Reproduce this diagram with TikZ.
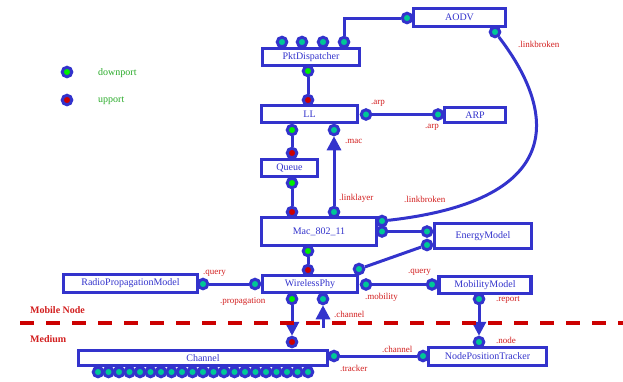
\documentclass[tikz,border=0pt]{standalone}
\usepackage{fontspec}
\setmainfont{Liberation Serif}
\usetikzlibrary{arrows.meta,positioning}
\definecolor{nsblue}{RGB}{51,51,204}
\definecolor{portteal}{RGB}{0,200,150}
\definecolor{downgreen}{RGB}{0,240,0}
\definecolor{upred}{RGB}{204,0,0}
\definecolor{lblred}{RGB}{210,30,30}
\definecolor{legendgreen}{RGB}{40,170,40}
\tikzset{
  module/.style={draw=nsblue, line width=3.2pt, fill=white, text=nsblue, font=\fontsize{10}{11}\selectfont, inner sep=0pt},
  port/.style={circle, draw=nsblue, line width=3pt, fill=portteal, minimum size=9.5pt, inner sep=0pt},
  dport/.style={port, fill=downgreen},
  uport/.style={port, fill=upred},
  link/.style={draw=nsblue, line width=3pt},
  flow/.style={link, -{Triangle[length=14pt,width=14pt]}},
  lbl/.style={text=lblred, font=\fontsize{9}{10}\selectfont, inner sep=0pt, anchor=west},
  region/.style={text=lblred, font=\fontsize{10}{11}\selectfont\bfseries, inner sep=0pt, anchor=west},
  legend/.style={text=legendgreen, font=\fontsize{10}{11}\selectfont, inner sep=0pt, anchor=west},
}
\begin{document}
\begin{tikzpicture}[x=1pt, y=-1pt]
\useasboundingbox (0,0) rectangle (623,381);
% Modules
\node[module, minimum width=92pt, minimum height=18pt] (aodv) at (459.5,17.5) {AODV};
\node[module, minimum width=97pt, minimum height=17pt] (pkt) at (311,57) {PktDispatcher};
\node[module, minimum width=96pt, minimum height=17pt] (ll) at (309.5,114) {LL};
\node[module, minimum width=61pt, minimum height=15pt] (arp) at (475,115) {ARP};
\node[module, minimum width=56pt, minimum height=17pt] (queue) at (289.5,168) {Queue};
\node[module, minimum width=115pt, minimum height=28pt] (mac) at (319,231.5) {Mac\_802\_11};
\node[module, minimum width=97pt, minimum height=25pt] (energy) at (483,236) {EnergyModel};
\node[module, minimum width=95pt, minimum height=17pt] (phy) at (310,284) {WirelessPhy};
\node[module, minimum width=92pt, minimum height=17pt] (mobility) at (485,285) {MobilityModel};
\node[module, minimum width=134pt, minimum height=18pt] (radio) at (130.5,283.5) {RadioPropagationModel};
\node[module, minimum width=249pt, minimum height=15pt] (channel) at (203,358) {Channel};
\node[module, minimum width=118pt, minimum height=18pt] (tracker) at (487.5,356.5) {NodePositionTracker};

% Ports
\foreach \x [count=\i] in {282,302,323,344}
  \node[port] (pkt-t\i) at (\x,42) {};
\node[dport] (pkt-b) at (308,71) {};
\node[port] (aodv-l) at (407,18) {};
\node[port] (aodv-b) at (495,32) {};
\node[uport] (ll-t) at (308,100) {};
\node[port] (ll-r) at (366,114.5) {};
\node[dport] (ll-b1) at (292,130) {};
\node[port] (ll-b2) at (334,130) {};
\node[port] (arp-l) at (438,114.5) {};
\node[uport] (queue-t) at (292,153) {};
\node[dport] (queue-b) at (292,183) {};
\node[uport] (mac-t1) at (292,212) {};
\node[port] (mac-t2) at (334,212) {};
\node[port] (mac-r1) at (382,221) {};
\node[port] (mac-r2) at (382,231.5) {};
\node[dport] (mac-b) at (308,251) {};
\node[port] (energy-l1) at (427,231.5) {};
\node[port] (energy-l2) at (427,245) {};
\node[uport] (phy-t1) at (308,270) {};
\node[port] (phy-t2) at (359,269) {};
\node[port] (phy-l) at (255,284) {};
\node[port] (phy-r) at (366,284.5) {};
\node[dport] (phy-b1) at (292,299) {};
\node[port] (phy-b2) at (323,299) {};
\node[port] (mobility-l) at (432,284.5) {};
\node[port] (mobility-b) at (479,299) {};
\node[port] (radio-r) at (203,284) {};
\node[uport] (channel-t) at (292,342) {};
\node[port] (channel-r) at (334,356) {};
\foreach \i in {0,...,20}
  \node[port] (channel-b\i) at (98+\i*10.5,372) {};
\node[port] (tracker-t) at (479,342) {};
\node[port] (tracker-l) at (423,356) {};
\coordinate (chup) at (323,328);

% Connectors
\draw[link] (pkt-t4) |- (aodv-l);
\draw[link] (pkt-b) -- (ll-t);
\draw[link] (ll-r) -- (arp-l);
\draw[link] (ll-b1) -- (queue-t);
\draw[link] (queue-b) -- (mac-t1);
\draw[flow] (mac-t2) -- (ll-b2);
\draw[link] (mac-r1) .. controls (570,200) and (555,110) .. (aodv-b);
\draw[link] (mac-r2) -- (energy-l1);
\draw[link] (mac-b) -- (phy-t1);
\draw[link] (phy-t2) -- (energy-l2);
\draw[link] (radio-r) -- (phy-l);
\draw[link] (phy-r) -- (mobility-l);
\draw[flow] (phy-b1) -- (channel-t);
\draw[flow] (chup) -- (phy-b2);
\draw[flow] (mobility-b) -- (tracker-t);
\draw[link] (channel-r) -- (tracker-l);

% Boundary between node and medium
\draw[upred, line width=4pt, dash pattern=on 14pt off 12pt] (20,323) -- (623,323);
\node[region] (mnode) at (30,310) {Mobile Node};
\node[region] (medium) at (30,339) {Medium};

% Port labels
\node[lbl] (l-arp1) at (371,103) {.arp};
\node[lbl] (l-arp2) at (425,127) {.arp};
\node[lbl] (l-mac) at (345,141) {.mac};
\node[lbl] (l-linklayer) at (339,198) {.linklayer};
\node[lbl] (l-lb1) at (404,199) {.linkbroken};
\node[lbl] (l-lb2) at (518,44) {.linkbroken};
\node[lbl] (l-query1) at (408,272) {.query};
\node[lbl] (l-mobility) at (365,297) {.mobility};
\node[lbl] (l-report) at (496,300) {.report};
\node[lbl] (l-query2) at (203,273) {.query};
\node[lbl] (l-propagation) at (220,301) {.propagation};
\node[lbl] (l-channel1) at (334,314) {.channel};
\node[lbl] (l-node) at (496,340) {.node};
\node[lbl] (l-channel2) at (382,349) {.channel};
\node[lbl] (l-tracker) at (340,368) {.tracker};

% Legend
\node[dport] (key-down) at (67,72) {};
\node[uport] (key-up) at (67,100) {};
\node[legend] (t-down) at (98,73) {downport};
\node[legend] (t-up) at (98,101) {upport};
\end{tikzpicture}
\end{document}
